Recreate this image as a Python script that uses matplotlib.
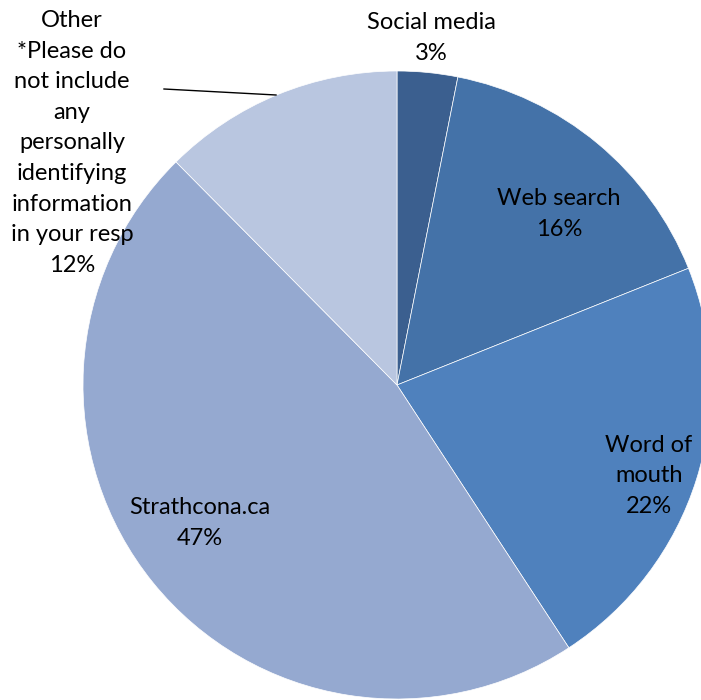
import matplotlib
matplotlib.use("Agg")
import matplotlib.pyplot as plt

categories = ["Social media", "Web search", "Word of mouth", "Strathcona.ca",
              "Other *Please do not include any personally identifying information in your resp"]
label_texts = ["Social media", "Web search", "Word of\nmouth", "Strathcona.ca",
               "Other\n*Please do\nnot include\nany\npersonally\nidentifying\ninformation\nin your resp"]
values = [3.1, 15.8, 21.8, 46.7, 12.4]
colors = ["#3B5F8F", "#4472A8", "#4F81BD", "#95A9D0", "#B9C6E0"]

W, H = 701, 700
cx, cy, R = 397, 385, 314

fig = plt.figure(figsize=(W / 100, H / 100), dpi=100)
ax = fig.add_axes([0, 0, 1, 1])
ax.pie(values, colors=colors, startangle=90, counterclock=False, radius=1.0,
       wedgeprops=dict(edgecolor="white", linewidth=0.5))
ax.set_xlim(-cx / R, (W - cx) / R)
ax.set_ylim(-(H - cy) / R, cy / R)
ax.set_aspect("auto")
ax.axis("off")


def px(x, y):
    return ((x - cx) / R, (cy - y) / R)


total = sum(values)
label_pos = [(431, 38), (559, 214), (649, 476), (200, 523), (72, 143)]
for txt, v, (x, y) in zip(label_texts, values, label_pos):
    ax.text(*px(x, y), f"{txt}\n{v / total * 100:.0f}%", ha="center", va="center",
            fontsize=17, family=["Lato", "DejaVu Sans"], color="black", linespacing=1.56)

# leader line for "Other"
x0, y0 = px(164, 89)
x1, y1 = px(276, 95)
ax.plot([x0, x1], [y0, y1], color="black", linewidth=1.0)

fig.savefig("out.png", dpi=100)
